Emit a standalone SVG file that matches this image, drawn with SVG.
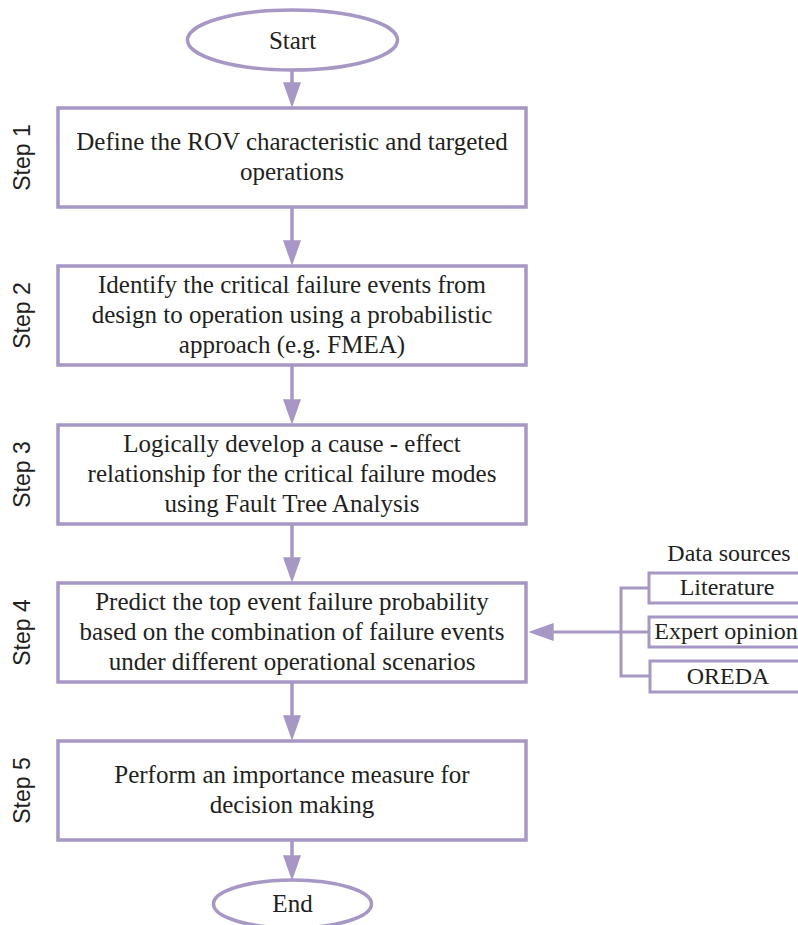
<svg xmlns="http://www.w3.org/2000/svg" width="798" height="925" viewBox="0 0 798 925">
<defs>
<marker id="ah" markerUnits="userSpaceOnUse" markerWidth="26" markerHeight="18" refX="12" refY="8.5" orient="auto" viewBox="0 0 24 17">
<path d="M0,0 L24,8.5 L0,17 Z" fill="#a797c4"/>
</marker>
<style>
.box{fill:#fff;stroke:#a797c4;stroke-width:3.5}
.src{fill:#fff;stroke:#a797c4;stroke-width:3}
.t{font-family:"Liberation Serif","Times New Roman",serif;font-size:25px;fill:#231f20;text-anchor:middle}
.d{font-family:"Liberation Serif","Times New Roman",serif;font-size:24px;fill:#231f20;text-anchor:middle}
.s{font-family:"Liberation Sans",Arial,sans-serif;font-size:23px;fill:#231f20;text-anchor:middle}
.c{fill:none;stroke:#a797c4;stroke-width:3.5}
.b{fill:none;stroke:#a797c4;stroke-width:3}
</style>
</defs>
<rect width="798" height="925" fill="#fff"/>
<g id="connectors">
<line class="c" x1="292" y1="70" x2="292" y2="95" marker-end="url(#ah)"/>
<line class="c" x1="292" y1="207" x2="292" y2="253" marker-end="url(#ah)"/>
<line class="c" x1="292" y1="365" x2="292" y2="412" marker-end="url(#ah)"/>
<line class="c" x1="292" y1="524" x2="292" y2="570" marker-end="url(#ah)"/>
<line class="c" x1="292" y1="682" x2="292" y2="728" marker-end="url(#ah)"/>
<line class="c" x1="292" y1="840" x2="292" y2="868" marker-end="url(#ah)"/>
<polyline class="b" points="649,588 621,588 621,676 650,676"/>
<line class="b" x1="621" y1="632" x2="649" y2="632"/>
<line class="b" x1="621" y1="632" x2="541" y2="632" marker-end="url(#ah)"/>
</g>
<g id="start">
<ellipse class="box" cx="292.5" cy="40" rx="105" ry="30"/>
<text class="t" x="292.5" y="49">Start</text>
</g>
<g id="step1">
<rect class="box" x="58" y="108" width="468" height="99"/>
<text class="t" x="292" y="150">Define the ROV characteristic and targeted</text>
<text class="t" x="292" y="180">operations</text>
<text class="s" transform="translate(30,157.5) rotate(-90)">Step 1</text>
</g>
<g id="step2">
<rect class="box" x="58" y="266" width="468" height="99"/>
<text class="t" x="292" y="293">Identify the critical failure events from</text>
<text class="t" x="292" y="323">design to operation using a probabilistic</text>
<text class="t" x="292" y="353">approach (e.g. FMEA)</text>
<text class="s" transform="translate(30,315.5) rotate(-90)">Step 2</text>
</g>
<g id="step3">
<rect class="box" x="58" y="425" width="468" height="99"/>
<text class="t" x="292" y="452">Logically develop a cause - effect</text>
<text class="t" x="292" y="482">relationship for the critical failure modes</text>
<text class="t" x="292" y="512">using Fault Tree Analysis</text>
<text class="s" transform="translate(30,474.5) rotate(-90)">Step 3</text>
</g>
<g id="step4">
<rect class="box" x="58" y="583" width="468" height="99"/>
<text class="t" x="292" y="610">Predict the top event failure probability</text>
<text class="t" x="292" y="640">based on the combination of failure events</text>
<text class="t" x="292" y="670">under different operational scenarios</text>
<text class="s" transform="translate(30,632.5) rotate(-90)">Step 4</text>
</g>
<g id="step5">
<rect class="box" x="58" y="741" width="468" height="99"/>
<text class="t" x="292" y="783">Perform an importance measure for</text>
<text class="t" x="292" y="813">decision making</text>
<text class="s" transform="translate(30,790.5) rotate(-90)">Step 5</text>
</g>
<g id="end">
<ellipse class="box" cx="292.5" cy="904" rx="79" ry="24"/>
<text class="t" x="292.5" y="912">End</text>
</g>
<g id="data-sources">
<text class="d" x="729" y="561">Data sources</text>
</g>
<g id="literature">
<rect class="src" x="649" y="573" width="170" height="30"/>
<text class="d" x="727" y="595">Literature</text>
</g>
<g id="expert-opinion">
<rect class="src" x="649" y="617" width="170" height="30"/>
<text class="d" x="726" y="639">Expert opinion</text>
</g>
<g id="oreda">
<rect class="src" x="650" y="661" width="170" height="31"/>
<text class="d" x="728" y="684">OREDA</text>
</g>
</svg>
